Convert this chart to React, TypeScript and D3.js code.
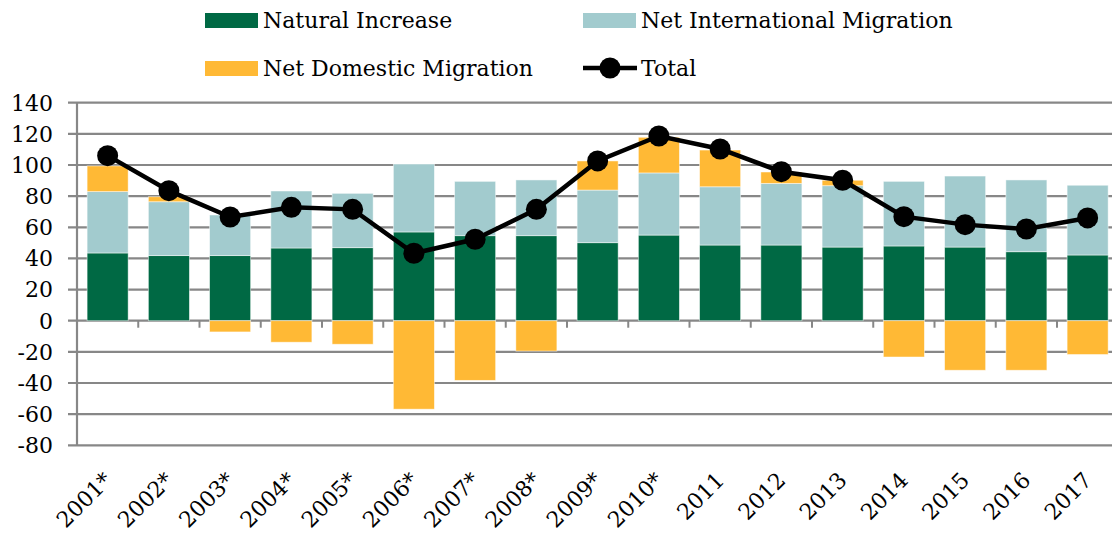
import React, { useEffect, useRef } from 'react';
import * as d3 from 'd3';

const years = ['2001*', '2002*', '2003*', '2004*', '2005*', '2006*', '2007*', '2008*', '2009*', '2010*', '2011', '2012', '2013', '2014', '2015', '2016', '2017'];
const naturalIncrease = [43.5, 41.8, 41.8, 46.7, 46.9, 57.0, 54.6, 54.6, 50.1, 55.0, 48.6, 48.6, 47.3, 48.0, 47.3, 44.3, 42.2];
const netIntlMigration = [39.4, 34.6, 26.1, 36.6, 34.9, 43.6, 34.9, 35.8, 33.8, 39.9, 37.4, 39.6, 39.4, 41.5, 45.6, 46.1, 44.8];
const netDomMigration = [16.5, 3.2, -7.2, -13.8, -15.1, -56.8, -38.3, -19.5, 18.7, 22.9, 23.6, 7.3, 3.5, -23.3, -31.8, -31.8, -21.7];
const total = [106.0, 83.5, 66.6, 72.8, 71.5, 43.3, 52.3, 71.5, 102.6, 118.6, 110.3, 95.7, 90.2, 66.8, 61.7, 58.9, 66.0];
const yTicks = [140, 120, 100, 80, 60, 40, 20, 0, -20, -40, -60, -80];

const seriesKeys = ['natural', 'intl', 'domestic'];
const seriesNames = ['Natural Increase', 'Net International Migration', 'Net Domestic Migration'];
const colors = ['#006944', '#A2CBCE', '#FFB935'];

const W = 1112;
const H = 533;
const FONT = '"DejaVu Serif", serif';

export default function App() {
  const ref = useRef<SVGSVGElement>(null);

  useEffect(() => {
    const svg = d3.select(ref.current);
    svg.selectAll('*').remove();

    const left = 77;
    const step = 61.25;
    const x = d3.scaleBand<string>()
      .domain(years)
      .range([left, left + step * years.length])
      .paddingInner(0.33)
      .paddingOuter(0.165);
    const y = d3.scaleLinear().domain([-80, 140]).range([445.3, 102.7]);

    // grid lines
    svg.append('g')
      .selectAll('line')
      .data(yTicks)
      .join('line')
      .attr('x1', 68)
      .attr('x2', W)
      .attr('y1', d => y(d))
      .attr('y2', d => y(d))
      .attr('stroke', '#878787')
      .attr('stroke-width', 2.2);

    // y axis line
    svg.append('line')
      .attr('x1', left).attr('x2', left)
      .attr('y1', y(140)).attr('y2', y(-80))
      .attr('stroke', '#878787').attr('stroke-width', 2.2);

    // category ticks
    svg.append('g')
      .selectAll('line')
      .data(years.slice(1))
      .join('line')
      .attr('x1', d => x(d)! - x.step() * x.paddingInner() / 2)
      .attr('x2', d => x(d)! - x.step() * x.paddingInner() / 2)
      .attr('y1', y(0))
      .attr('y2', y(0) + 7)
      .attr('stroke', '#878787').attr('stroke-width', 2);

    // y labels
    svg.append('g')
      .selectAll('text')
      .data(yTicks)
      .join('text')
      .attr('x', 53)
      .attr('y', d => y(d))
      .attr('dy', '0.36em')
      .attr('text-anchor', 'end')
      .style('font-family', FONT)
      .style('font-size', '22px')
      .attr('fill', '#000')
      .text(d => d);

    // stacked bars
    const rows = years.map((yr, i) => ({
      year: yr,
      natural: naturalIncrease[i],
      intl: netIntlMigration[i],
      domestic: netDomMigration[i],
    }));
    const stack = d3.stack<any>().keys(seriesKeys).offset(d3.stackOffsetDiverging);
    const stacked = stack(rows);

    svg.append('g')
      .selectAll('g')
      .data(stacked)
      .join('g')
      .attr('fill', (_, i) => colors[i])
      .selectAll('rect')
      .data(d => d)
      .join('rect')
      .attr('x', d => x(d.data.year)!)
      .attr('width', x.bandwidth())
      .attr('y', d => y(Math.max(d[0], d[1])))
      .attr('height', d => Math.abs(y(d[0]) - y(d[1])))
      .attr('stroke', 'rgba(255,255,255,0.6)')
      .attr('stroke-width', 0.8);

    // total line
    const line = d3.line<number>()
      .x((_, i) => x(years[i])! + x.bandwidth() / 2)
      .y(d => y(d));
    svg.append('path')
      .datum(total)
      .attr('d', line)
      .attr('fill', 'none')
      .attr('stroke', '#000')
      .attr('stroke-width', 4.5);
    svg.append('g')
      .selectAll('circle')
      .data(total)
      .join('circle')
      .attr('cx', (_, i) => x(years[i])! + x.bandwidth() / 2)
      .attr('cy', d => y(d))
      .attr('r', 10.5)
      .attr('fill', '#000');

    // x labels
    svg.append('g')
      .selectAll('text')
      .data(years)
      .join('text')
      .attr('transform', d => `translate(${x(d)! + x.bandwidth() / 2},${476}) rotate(-45)`)
      .attr('text-anchor', 'end')
      .attr('dy', '0.36em')
      .style('font-family', FONT)
      .style('font-size', '22px')
      .attr('fill', '#000')
      .text(d => d);

    // legend
    const legendItems = [
      { name: seriesNames[0], color: colors[0], lx: 205, ly: 20, type: 'rect' },
      { name: seriesNames[1], color: colors[1], lx: 583, ly: 20, type: 'rect' },
      { name: seriesNames[2], color: colors[2], lx: 205, ly: 68, type: 'rect' },
      { name: 'Total', color: '#000', lx: 583, ly: 68, type: 'line' },
    ];
    const lg = svg.append('g');
    legendItems.forEach(it => {
      if (it.type === 'rect') {
        lg.append('rect')
          .attr('x', it.lx).attr('y', it.ly - 7)
          .attr('width', 53).attr('height', 15)
          .attr('fill', it.color);
      } else {
        lg.append('line')
          .attr('x1', it.lx).attr('x2', it.lx + 54)
          .attr('y1', it.ly).attr('y2', it.ly)
          .attr('stroke', '#000').attr('stroke-width', 4.5);
        lg.append('circle')
          .attr('cx', it.lx + 27).attr('cy', it.ly).attr('r', 10.5).attr('fill', '#000');
      }
      lg.append('text')
        .attr('x', it.lx + 58)
        .attr('y', it.ly)
        .attr('dy', '0.36em')
        .style('font-family', FONT)
        .style('font-size', '22px')
        .attr('fill', '#000')
        .text(it.name);
    });
  }, []);

  return (
    <svg
      ref={ref}
      width={W}
      height={H}
      style={{ position: 'absolute', left: 0, top: 0, background: '#fff' }}
    />
  );
}
